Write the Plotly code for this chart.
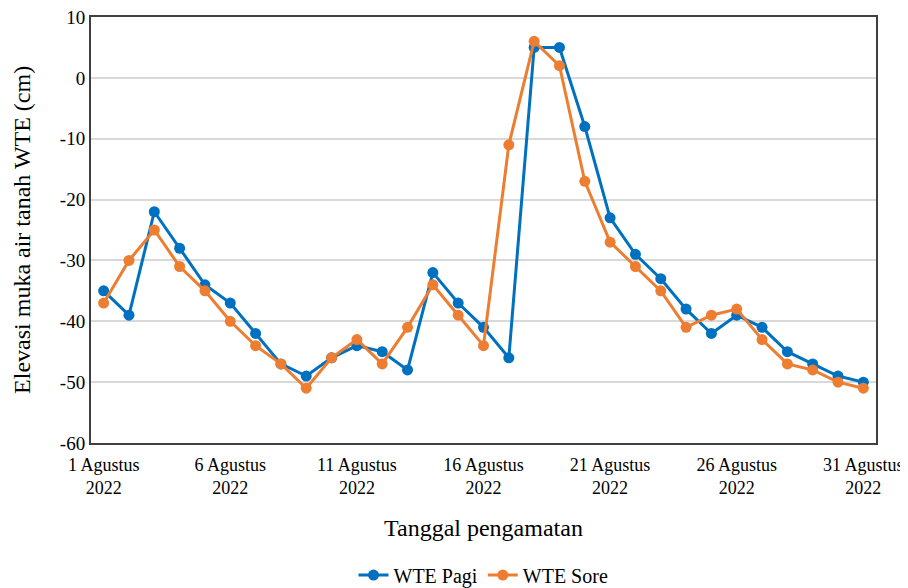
import plotly.graph_objects as go

days = list(range(1, 32))
wte_pagi = [-35, -39, -22, -28, -34, -37, -42, -47, -49, -46, -44, -45, -48, -32, -37, -41, -46,
            5, 5, -8, -23, -29, -33, -38, -42, -39, -41, -45, -47, -49, -50]
wte_sore = [-37, -30, -25, -31, -35, -40, -44, -47, -51, -46, -43, -47, -41, -34, -39, -44, -11,
            6, 2, -17, -27, -31, -35, -41, -39, -38, -43, -47, -48, -50, -51]
tick_days = [1, 6, 11, 16, 21, 26, 31]
tick_labels = [f"{d} Agustus<br>2022" for d in tick_days]
y_ticks = [-60, -50, -40, -30, -20, -10, 0, 10]
y_tick_labels = [str(v) for v in y_ticks]

FONT = "Liberation Serif, Times New Roman, serif"

fig = go.Figure()
fig.add_trace(go.Scatter(x=days, y=wte_pagi, name="WTE Pagi", mode="lines+markers",
                         line=dict(color="#0070C0", width=3),
                         marker=dict(color="#0070C0", size=11)))
fig.add_trace(go.Scatter(x=days, y=wte_sore, name="WTE Sore", mode="lines+markers",
                         line=dict(color="#ED7D31", width=3),
                         marker=dict(color="#ED7D31", size=11)))

# page body has an 8px default margin, so the figure is offset by 8px
fig.update_layout(
    width=900, height=580,
    margin=dict(l=83, r=32, t=9, b=145, autoexpand=False),
    paper_bgcolor="white", plot_bgcolor="white",
    font=dict(family=FONT, size=19, color="black"),
    showlegend=True,
    legend=dict(orientation="h", x=0.5, xanchor="center", y=-0.31, yanchor="middle",
                font=dict(family=FONT, size=20, color="black")),
    xaxis=dict(range=[0.5, 31.5], tickvals=tick_days, ticktext=tick_labels,
               showgrid=False, zeroline=False, showline=True, linecolor="#404040",
               linewidth=2, mirror=True, ticks="", automargin=False,
               ticklabelstandoff=4, ticklabeloverflow="allow",
               tickfont=dict(family=FONT, size=18)),
    yaxis=dict(range=[-60, 10], tickvals=y_ticks, ticktext=y_tick_labels,
               showgrid=True, gridcolor="#D9D9D9",
               gridwidth=1.5, zeroline=False, showline=True, linecolor="#404040",
               linewidth=2, mirror=True, ticks="", automargin=False,
               ticklabeloverflow="allow",
               tickfont=dict(family=FONT, size=19)),
    annotations=[
        dict(text="Tanggal pengamatan", xref="paper", yref="paper", x=0.5, y=-0.2,
             yanchor="middle", showarrow=False, font=dict(family=FONT, size=24)),
        dict(text="Elevasi muka air tanah WTE (cm)", xref="paper", yref="paper",
             x=-0.088, y=0.5, xanchor="center", yanchor="middle", textangle=-90,
             showarrow=False, font=dict(family=FONT, size=24)),
    ],
)

fig.write_html("out.html")
